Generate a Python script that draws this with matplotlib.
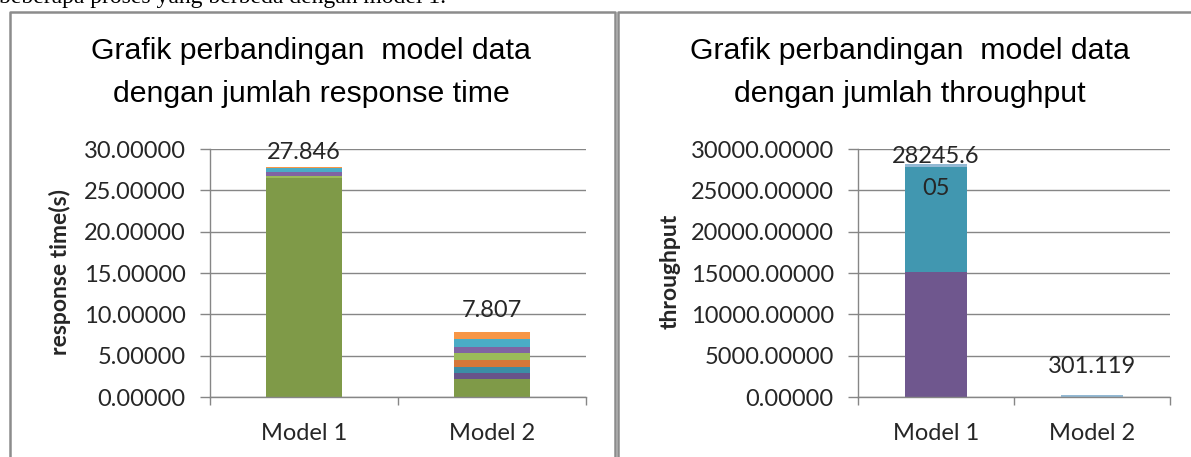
import matplotlib
matplotlib.use('Agg')
import matplotlib.pyplot as plt
from matplotlib.lines import Line2D
from matplotlib.ticker import FuncFormatter, FixedLocator
import numpy as np

# ---------------- data ----------------
categories = ['Model 1', 'Model 2']

# response time (s), stacked series (bottom -> top)
rt_s1 = [26.50, 2.12]
rt_s2 = [0.00, 0.79]
rt_s3 = [0.00, 0.72]
rt_s4 = [0.00, 0.80]
rt_s5 = [0.28, 0.87]
rt_s6 = [0.45, 0.80]
rt_s7 = [0.46, 0.92]
rt_s8 = [0.156, 0.787]
rt_series = [rt_s1, rt_s2, rt_s3, rt_s4, rt_s5, rt_s6, rt_s7, rt_s8]
rt_colors = ['#7F9A48', '#67538A', '#3B8DA6', '#D5773A',
             '#9BBB59', '#8064A2', '#4BACC6', '#F79646']

# throughput, stacked series (bottom -> top)
tp_s1 = [15150.0, 0.0]
tp_s2 = [12710.0, 0.0]
tp_s3 = [385.605, 301.119]
tp_series = [tp_s1, tp_s2, tp_s3]
tp_colors = ['#6F578E', '#4197B0', '#93B9D4']

rt_yticks = [0, 5, 10, 15, 20, 25, 30]
tp_yticks = [0, 5000, 10000, 15000, 20000, 25000, 30000]

title_rt = ['Grafik perbandingan  model data', 'dengan jumlah response time']
title_tp = ['Grafik perbandingan  model data', 'dengan jumlah throughput']
ylabel_rt = 'response time(s)'
ylabel_tp = 'throughput'
para_text = 'beberapa proses yang berbeda dengan model 1.'

# ---------------- layout helpers ----------------
W, H = 1191, 457
fig = plt.figure(figsize=(W / 100, H / 100), dpi=100)
fig.patch.set_facecolor('white')

def fx(x):
    return x / W

def fy(y):
    return 1 - y / H

FONT = ['Lato', 'DejaVu Sans']
TITLE_FONT = ['Liberation Sans Narrow', 'Liberation Sans', 'DejaVu Sans']
GRID = '#868686'
TXT = '#262626'

def style_axis(ax, yticks, ylim):
    x = np.arange(len(categories))
    ax.set_xlim(-0.5, len(categories) - 0.5)
    ax.set_ylim(*ylim)
    ax.set_yticks(yticks)
    ax.yaxis.set_major_formatter(FuncFormatter(lambda v, p: f'{v:.5f}'))
    ax.set_xticks(x)
    ax.set_xticklabels(categories)
    ax.xaxis.set_minor_locator(FixedLocator(np.arange(len(categories) + 1) - 0.5))
    ax.tick_params(axis='x', which='major', length=0, pad=19, labelsize=17,
                   labelcolor=TXT)
    ax.tick_params(axis='x', which='minor', length=6, width=1, color=GRID,
                   direction='out')
    ax.tick_params(axis='y', which='major', length=7, width=1, color=GRID,
                   pad=10.5, labelsize=17, labelcolor=TXT, direction='out')
    for lab in ax.get_xticklabels() + ax.get_yticklabels():
        lab.set_fontfamily(FONT)
    ax.yaxis.grid(True, color=GRID, linewidth=1.0)
    ax.set_axisbelow(True)
    for s in ['top', 'right']:
        ax.spines[s].set_visible(False)
    for s in ['left', 'bottom']:
        ax.spines[s].set_color(GRID)
        ax.spines[s].set_linewidth(1.0)

def stacked(ax, series, colors, width):
    x = np.arange(len(categories))
    bottom = np.zeros(len(categories))
    for vals, c in zip(series, colors):
        vals = np.array(vals, dtype=float)
        ax.bar(x, vals, width=width, bottom=bottom, color=c, linewidth=0)
        bottom += vals
    return bottom

# ---------------- left chart ----------------
ax1 = fig.add_axes([fx(210), fy(397), (586 - 210) / W, (397 - 149) / H])
tot_rt = stacked(ax1, rt_series, rt_colors, 0.40)
style_axis(ax1, rt_yticks, (0, 30))
rt_label_y = [28.73, 9.64]
for i, t in enumerate(tot_rt):
    ax1.text(i, rt_label_y[i], f'{t:.3f}', ha='center', va='baseline',
             fontsize=17, color=TXT, family=FONT)

# ---------------- right chart ----------------
ax2 = fig.add_axes([fx(858), fy(397), (1170 - 858) / W, (397 - 149) / H])
tot_tp = stacked(ax2, tp_series, tp_colors, 0.40)
style_axis(ax2, tp_yticks, (0, 30000))
s0 = f'{tot_tp[0]:.3f}'
ax2.text(0, 28270, s0[:7], ha='center', va='baseline', fontsize=17,
         color=TXT, family=FONT)
ax2.text(0, 24436, s0[7:], ha='center', va='baseline', fontsize=17,
         color=TXT, family=FONT)
ax2.text(1, 2867, f'{tot_tp[1]:.3f}', ha='center', va='baseline', fontsize=17,
         color=TXT, family=FONT)

# ---------------- titles & axis labels ----------------
for cx, lines in [(311, title_rt), (910, title_tp)]:
    fig.text(fx(cx), fy(59), lines[0], ha='center', va='baseline',
             fontsize=21.8, family=TITLE_FONT, color='black')
    fig.text(fx(cx), fy(102), lines[1], ha='center', va='baseline',
             fontsize=21.8, family=TITLE_FONT, color='black')

fig.text(fx(60), fy(272), ylabel_rt, rotation=90, ha='center', va='center',
         fontsize=16.5, fontweight='bold', family=FONT, color=TXT)
fig.text(fx(670), fy(271), ylabel_tp, rotation=90, ha='center', va='center',
         fontsize=16.5, fontweight='bold', family=FONT, color=TXT)

# ---------------- paragraph text (cut at top) ----------------
fig.text(fx(-1), fy(2.5), para_text, ha='left', va='baseline', fontsize=17,
         family=['Liberation Serif', 'DejaVu Serif'], color='black')

# ---------------- panel borders ----------------
BORDER = '#8C8C8C'
def fline(xs, ys):
    fig.add_artist(Line2D([fx(v) for v in xs], [fy(v) for v in ys],
                          transform=fig.transFigure, color=BORDER,
                          linewidth=1.8, solid_capstyle='projecting'))

fline([9.5, 9.5, 614.5, 614.5], [470, 12, 12, 470])
fline([618, 618, 1200], [470, 12, 12])

fig.savefig('out.png', dpi=100, facecolor='white')
